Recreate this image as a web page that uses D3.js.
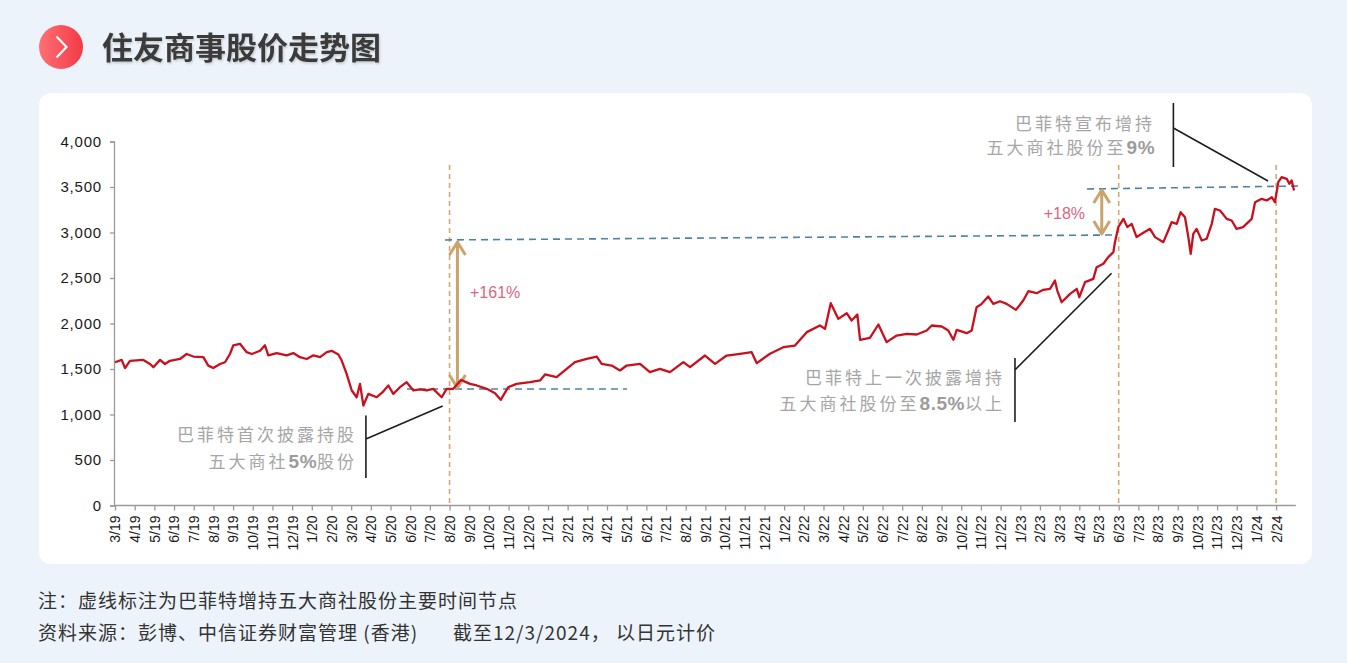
<!DOCTYPE html>
<html>
<head>
<meta charset="utf-8">
<script src="https://cdn.jsdelivr.net/npm/d3@7"></script>
<style>
  body { margin: 0; background: #edf3fb; }
  svg { display: block; }
  .cjk { font-family: "Noto Sans CJK SC", "Liberation Sans", sans-serif; }
  .num { font-family: "Liberation Sans", Arial, sans-serif; }
</style>
</head>
<body>
<svg id="chart" width="1347" height="663"></svg>
<script>
// data (x = months since 3/19)
const tickLabels = [
  "3/19","4/19","5/19","6/19","7/19","8/19","9/19","10/19","11/19","12/19",
  "1/20","2/20","3/20","4/20","5/20","6/20","7/20","8/20","9/20","10/20","11/20","12/20",
  "1/21","2/21","3/21","4/21","5/21","6/21","7/21","8/21","9/21","10/21","11/21","12/21",
  "1/22","2/22","3/22","4/22","5/22","6/22","7/22","8/22","9/22","10/22","11/22","12/22",
  "1/23","2/23","3/23","4/23","5/23","6/23","7/23","8/23","9/23","10/23","11/23","12/23",
  "1/24","2/24"
];
const yTicks = [0, 500, 1000, 1500, 2000, 2500, 3000, 3500, 4000];

const stockPx = [
  [0,1574],[0.34,1600],[0.51,1510],[0.76,1590],[1.44,1600],[1.78,1555],[1.95,1520],[2.29,1600],
  [2.54,1555],[2.79,1590],[3.30,1610],[3.64,1665],[3.98,1637],[4.49,1630],[4.74,1537],[4.99,1510],
  [5.34,1555],[5.59,1574],[5.84,1665],[6.01,1760],[6.35,1777],[6.69,1685],[6.95,1665],[7.37,1700],
  [7.62,1760],[7.79,1650],[8.22,1675],[8.72,1650],[9.06,1675],[9.40,1630],[9.74,1610],[10.08,1650],
  [10.42,1630],[10.76,1685],[11.01,1700],[11.35,1660],[11.52,1593],[11.77,1447],[12.03,1264],
  [12.28,1190],[12.45,1337],[12.62,1099],[12.87,1227],[13.30,1190],[13.57,1240],[13.89,1319],
  [14.14,1227],[14.48,1300],[14.82,1355],[15.16,1264],[15.50,1275],[15.84,1264],[16.17,1282],
  [16.60,1190],[16.85,1282],[17.19,1282],[17.58,1380],[18.04,1337],[18.38,1319],[18.89,1282],
  [19.31,1234],[19.60,1161],[19.98,1300],[20.41,1337],[21.09,1355],[21.60,1374],[21.85,1440],
  [22.44,1410],[22.95,1502],[23.37,1575],[23.97,1612],[24.48,1637],[24.73,1557],[25.24,1538],
  [25.66,1484],[26.00,1538],[26.68,1557],[27.18,1465],[27.69,1502],[28.20,1465],[28.88,1575],
  [29.22,1520],[29.98,1648],[30.49,1557],[31.08,1648],[31.76,1667],[32.35,1685],[32.61,1564],
  [33.28,1667],[33.96,1740],[34.55,1758],[35.15,1905],[35.82,1978],[36.08,1941],[36.37,2223],
  [36.75,2051],[37.18,2113],[37.43,2033],[37.72,2099],[37.86,1821],[38.36,1843],[38.79,1989],
  [39.21,1795],[39.72,1868],[40.23,1887],[40.74,1879],[41.25,1923],[41.50,1978],[42.01,1967],
  [42.34,1923],[42.60,1821],[42.77,1930],[43.28,1894],[43.53,1923],[43.78,2179],[44.04,2216],
  [44.37,2297],[44.63,2216],[44.97,2245],[45.31,2216],[45.78,2150],[46.15,2253],[46.41,2355],
  [46.83,2333],[47.17,2370],[47.51,2381],[47.76,2472],[47.88,2362],[48.10,2234],[48.53,2326],
  [48.87,2381],[49.00,2289],[49.29,2454],[49.71,2491],[49.88,2619],[50.22,2656],[50.47,2729],
  [50.73,2784],[50.81,2894],[50.98,3059],[51.24,3150],[51.44,3059],[51.66,3095],[51.91,2949],
  [52.17,2986],[52.59,3040],[52.85,2949],[53.27,2894],[53.52,3022],[53.69,3113],[53.95,3095],
  [54.15,3223],[54.37,3168],[54.54,2949],[54.66,2766],[54.79,2986],[54.96,3040],[55.22,2912],
  [55.47,2931],[55.73,3095],[55.89,3260],[56.15,3242],[56.49,3150],[56.74,3132],[56.99,3040],
  [57.32,3059],[57.76,3150],[57.93,3333],[58.27,3370],[58.52,3352],[58.78,3388],[58.94,3333],
  [59.11,3553],[59.28,3608],[59.54,3590],[59.67,3535],[59.79,3571],[59.91,3462]
];

// annotations, in data units
const eventMonths = [17, 51, 59];
const refLines = [
  { t0: 14.84, t1: 26.02, v0: 1280, v1: 1280 },
  { t0: 16.77, t1: 50.86, v0: 2918, v1: 2973 },
  { t0: 49.39, t1: 60.21, v0: 3478, v1: 3511 }
];
const gainArrows = [
  { t: 17.40, v0: 1291, v1: 2896, label: "+161%", lt: 18.04, lv: 2280, anchor: "start" },
  { t: 50.14, v0: 2984, v1: 3467, label: "+18%", lt: 49.29, lv: 3148, anchor: "end" }
];
const callouts = [
  { lines: [["巴菲特首次披露持股"], ["五大商社", "5%", "股份"]],
    tt: 12.30, tv: [709, 412], bar: [12.75, 989, 302], lead: [731, 16.65, 1093] },
  { lines: [["巴菲特上一次披露增持"], ["五大商社股份至", "8.5%", "以上"]],
    tt: 45.22, tv: [1335, 1049], bar: [45.73, 1621, 918], lead: [1489, 50.64, 2552] },
  { lines: [["巴菲特宣布增持"], ["五大商社股份至", "9%"]],
    tt: 52.85, tv: [4126, 3863], bar: [53.78, 4423, 3720], lead: [4148, 58.59, 3566] }
];

const titleText = "住友商事股价走势图";
const noteLines = ["注：虚线标注为巴菲特增持五大商社股份主要时间节点", "资料来源：彭博、中信证券财富管理 (香港)", "截至12/3/2024， 以日元计价"];

const svg = d3.select("#chart");
const x = d3.scaleLinear().domain([0, 60]).range([115, 1295.8]);
const y = d3.scaleLinear().domain([0, 4000]).range([505.5, 141.5]);

function drawFrame() {
  const defs = svg.append("defs");
  const grad = defs.append("linearGradient").attr("id", "iconGrad")
    .attr("x1", "0").attr("y1", "0").attr("x2", "1").attr("y2", "0");
  grad.append("stop").attr("offset", "0").attr("stop-color", "#ff7075");
  grad.append("stop").attr("offset", "1").attr("stop-color", "#f23a45");
  const sh = defs.append("filter").attr("id", "tshadow");
  sh.append("feDropShadow").attr("dx", 1).attr("dy", 1.5).attr("stdDeviation", 1)
    .attr("flood-color", "#000").attr("flood-opacity", 0.18);

  svg.append("circle").attr("cx", 61).attr("cy", 47).attr("r", 22).attr("fill", "url(#iconGrad)");
  svg.append("path").attr("d", "M56.5,36.5 L66.5,47 L56.5,57.5")
    .attr("fill", "none").attr("stroke", "#fff").attr("stroke-width", 2.2);
  svg.append("text").attr("class", "cjk")
    .attr("x", 102).attr("y", 59)
    .attr("font-size", 31).attr("font-weight", 700).attr("fill", "#3b3b3b")
    .attr("filter", "url(#tshadow)")
    .text(titleText);

  svg.append("rect").attr("x", 39).attr("y", 93).attr("width", 1273).attr("height", 471)
    .attr("rx", 12).attr("fill", "#fff");

  const notes = svg.append("g").attr("class", "cjk").attr("font-size", 19)
    .attr("fill", "#333").attr("letter-spacing", 1);
  notes.append("text").attr("x", 38).attr("y", 608).text(noteLines[0]);
  notes.append("text").attr("x", 38).attr("y", 640).text(noteLines[1]);
  notes.append("text").attr("x", 453).attr("y", 640).text(noteLines[2]);
}

function drawAxes() {
  const yAxis = svg.append("g").attr("transform", `translate(${x(0) - 1},0)`)
    .call(d3.axisLeft(y).tickValues(yTicks).tickFormat(d3.format(",")).tickSize(4).tickPadding(8));
  yAxis.selectAll("text").attr("class", "num").attr("font-size", 15)
    .attr("letter-spacing", 0.8).attr("fill", "#1a1a1a");

  const xAxis = svg.append("g").attr("transform", `translate(0,${y(0)})`)
    .call(d3.axisBottom(x).tickValues(d3.range(tickLabels.length))
      .tickFormat(i => tickLabels[i]).tickSize(5).tickSizeOuter(0));
  xAxis.selectAll("text").attr("class", "num").attr("font-size", 14).attr("fill", "#1a1a1a")
    .attr("text-anchor", "end").attr("transform", "rotate(-90)")
    .attr("x", -10).attr("y", 0).attr("dy", "0.35em");
  xAxis.select(".domain").attr("d", `M${x(0) - 1},0H${x(60)}`);

  svg.selectAll(".domain, .tick line").attr("stroke", "#9a9a9a").attr("stroke-width", 1.3);
}

function drawAnnotations() {
  svg.append("g").selectAll("line").data(eventMonths).join("line")
    .attr("x1", d => x(d)).attr("x2", d => x(d))
    .attr("y1", y(3742)).attr("y2", y(0))
    .attr("stroke", "#d6a86e").attr("stroke-width", 1.6).attr("stroke-dasharray", "5,4");

  svg.append("g").selectAll("line").data(refLines).join("line")
    .attr("x1", d => x(d.t0)).attr("x2", d => x(d.t1))
    .attr("y1", d => y(d.v0)).attr("y2", d => y(d.v1))
    .attr("stroke", "#4d82a3").attr("stroke-width", 1.6).attr("stroke-dasharray", "7,5");

  const arrows = svg.append("g").selectAll("g").data(gainArrows).join("g");
  arrows.append("path")
    .attr("d", d => {
      const cx = x(d.t), top = y(d.v1), bot = y(d.v0);
      return `M${cx},${top}V${bot}M${cx - 8},${top + 13}L${cx},${top}L${cx + 8},${top + 13}` +
        `M${cx - 8},${bot - 13}L${cx},${bot}L${cx + 8},${bot - 13}`;
    })
    .attr("fill", "none").attr("stroke", "#c9a46b").attr("stroke-width", 3).attr("stroke-linejoin", "round");
  arrows.append("text").attr("class", "num")
    .attr("x", d => x(d.lt)).attr("y", d => y(d.lv))
    .attr("text-anchor", d => d.anchor)
    .attr("font-size", 16).attr("fill", "#dc6680")
    .text(d => d.label);
}

function drawLine() {
  svg.append("path").datum(stockPx)
    .attr("d", d3.line().x(d => x(d[0])).y(d => y(d[1])))
    .attr("fill", "none").attr("stroke", "#c8101e").attr("stroke-width", 2.3)
    .attr("stroke-linejoin", "round");
}

function drawCallouts() {
  const g = svg.append("g").selectAll("g").data(callouts).join("g");
  g.append("path")
    .attr("d", d => `M${x(d.bar[0])},${y(d.bar[1])}V${y(d.bar[2])}` +
      `M${x(d.bar[0])},${y(d.lead[0])}L${x(d.lead[1])},${y(d.lead[2])}`)
    .attr("fill", "none").attr("stroke", "#1e1e1e").attr("stroke-width", 1.6);

  g.each(function(d) {
    d.lines.forEach((parts, i) => {
      const t = d3.select(this).append("text").attr("class", "cjk")
        .attr("x", x(d.tt)).attr("y", y(d.tv[i]))
        .attr("text-anchor", "end").attr("font-size", 17)
        .attr("letter-spacing", 3).attr("fill", "#a6a6a6");
      parts.forEach(p => {
        const isNum = /[0-9]/.test(p);
        t.append("tspan").attr("class", isNum ? "num" : "cjk")
          .attr("font-size", isNum ? 19 : 17)
          .attr("font-weight", isNum ? 700 : 400)
          .attr("fill", isNum ? "#9c9c9c" : "#a6a6a6")
          .attr("letter-spacing", isNum ? 0.5 : 3)
          .text(p);
      });
    });
  });
}

drawFrame();
drawAxes();
drawAnnotations();
drawLine();
drawCallouts();
</script>
</body>
</html>
